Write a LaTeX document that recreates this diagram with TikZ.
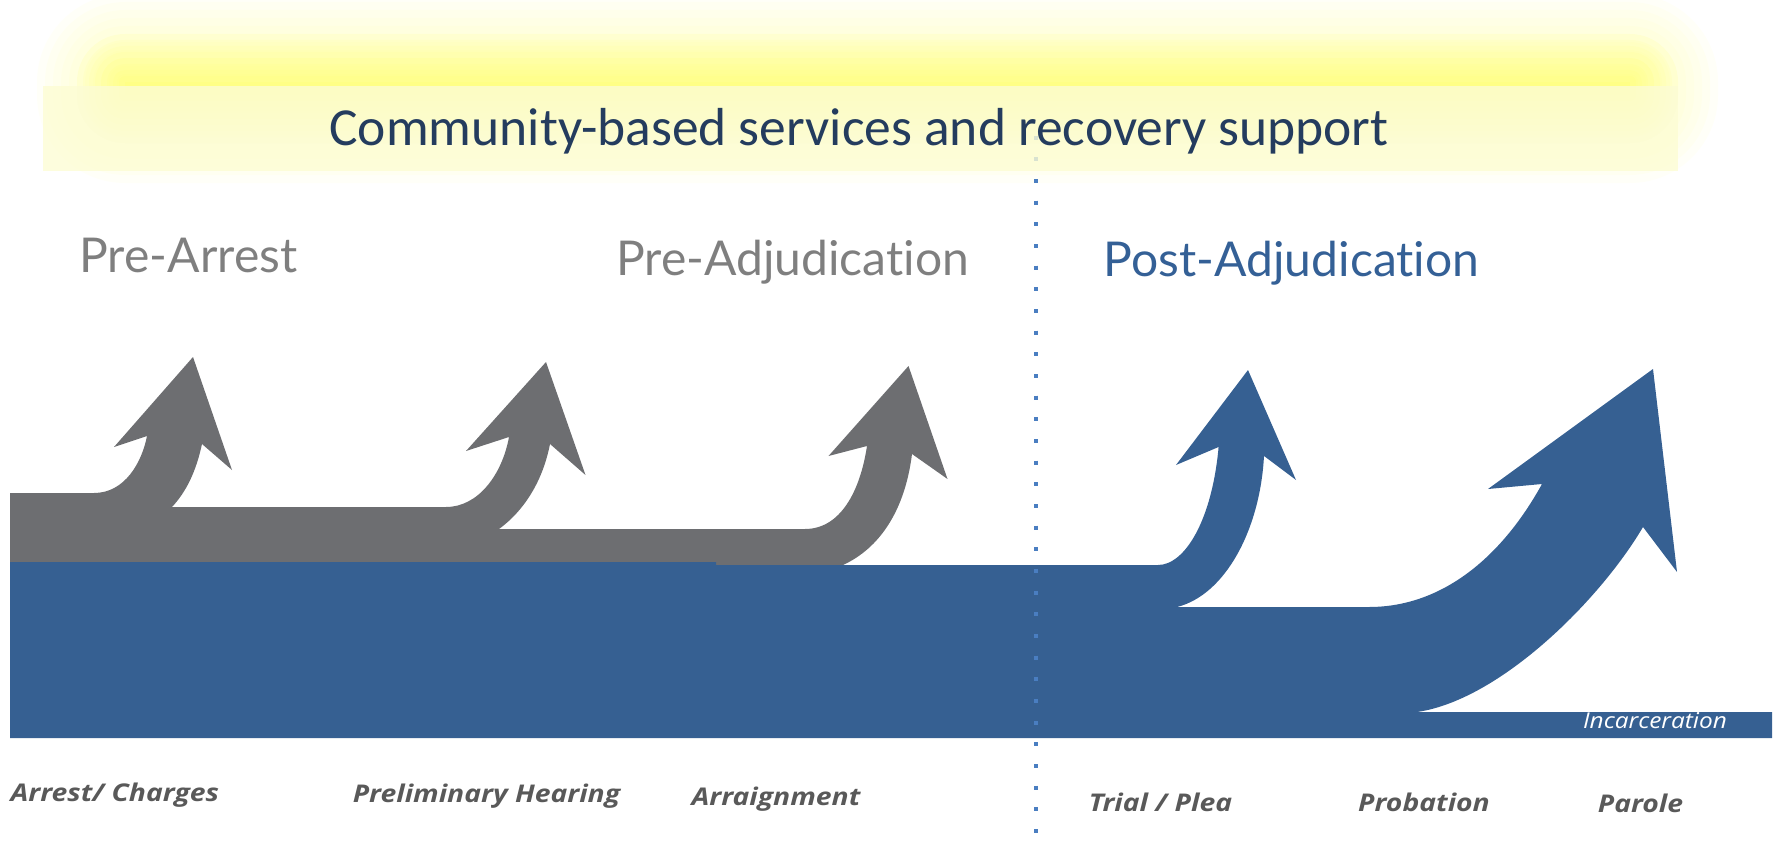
\documentclass[tikz,border=0pt]{standalone}
\usepackage{fontspec}
\setmainfont{Carlito}[Ligatures=NoCommon]
\newfontfamily\latofont{Lato}[Ligatures=NoCommon]
\newfontfamily\opensans{Open Sans}[Ligatures=NoCommon]
\definecolor{graya}{RGB}{109,110,113}
\definecolor{bluea}{RGB}{54,96,146}
\definecolor{headgray}{RGB}{127,127,127}
\definecolor{headblue}{RGB}{52,96,150}
\definecolor{navy}{RGB}{36,60,94}
\definecolor{labgray}{RGB}{89,89,89}
\definecolor{glowc}{RGB}{255,255,60}
\definecolor{bandc}{RGB}{252,252,212}
\definecolor{dotc}{RGB}{74,126,193}
\newcommand{\widetext}[2]{\scalebox{#1}[1]{#2}}
\tikzset{
  heading/.style={inner sep=0pt, anchor=base, font=\latofont\fontsize{48}{52}\selectfont},
  steplabel/.style={inner sep=0pt, anchor=base, text=labgray, font=\opensans\fontsize{24.4}{27}\selectfont\bfseries\itshape},
  dotline/.style={draw=dotc, line width=4.6pt, dash pattern=on 4pt off 17.67pt},
}
\begin{document}
\begin{tikzpicture}[x=1pt,y=-1pt]
\useasboundingbox (0,0) rectangle (1775,851);
% glow: broad faint layers
\foreach \d in {0,8,...,88} {
  \fill[glowc, opacity=0.035, rounded corners=\d] ({125-\d},{82-\d}) rectangle ({1630+\d},{95+\d});
}
% glow: concentrated layers
\foreach \d in {0,6,...,48} {
  \fill[glowc, opacity=0.06, rounded corners=\d] ({125-\d},{82-\d}) rectangle ({1630+\d},{95+\d});
}
\coordinate (dtop) at (1036,135.7);
\coordinate (dbot) at (1036,836);
\draw[dotline] (dtop) -- (dbot);
% band
\fill[bandc, opacity=0.8] (43,86) rectangle (1678,171);
\node[inner sep=0pt, anchor=base, text=navy, font=\fontsize{53.5}{57}\selectfont] (title) at (859,145) {Community-based services and recovery support};
% gray flow
\fill[graya] (10,565) -- (10,493) -- (94,493)
  .. controls (125,493) and (142,462) .. (147,436)
  -- (114,447) -- (193,357) -- (232,470) -- (202,444)
  .. controls (196,472) and (186,492) .. (172,507)
  -- (446,507)
  .. controls (478,507) and (502,475) .. (509,437)
  -- (466,451) -- (546,362) -- (585.5,475) -- (550,444)
  .. controls (543,480) and (525,510) .. (499,529)
  -- (805,529)
  .. controls (840,529) and (860,492) .. (867,446)
  -- (828.5,456) -- (908.5,366) -- (947.5,479) -- (912,454)
  .. controls (905,510) and (880,548) .. (843,565)
  -- cycle;
% blue flow
\fill[bluea] (10,738) -- (10,562) -- (716,562) -- (716,565) -- (1158,565)
  .. controls (1185,565) and (1212,520) .. (1218.6,447)
  -- (1176,465) -- (1248,370) -- (1296,480) -- (1264,456)
  .. controls (1260,530) and (1225,595) .. (1177,607)
  -- (1369,607)
  .. controls (1440,607) and (1500,560) .. (1542,484)
  -- (1488,489) -- (1653,369) -- (1677,572) -- (1643,527)
  .. controls (1600,600) and (1500,700) .. (1417,712)
  -- (1772,712) -- (1772,738) -- cycle;
% dots over blue
\coordinate (dmid) at (1036,179);
\draw[dotline] (dmid) -- (dbot);
% headings
\node[heading, text=headgray] (prearrest) at (188.4,272) {Pre-Arrest};
\node[heading, text=headgray] (preadj) at (792.5,275) {Pre-Adjudication};
\node[heading, text=headblue] (postadj) at (1291.5,276) {Post-Adjudication};
% incarceration
\node[inner sep=0pt, anchor=base, text=white, font=\opensans\fontsize{21.8}{24}\selectfont\itshape] (incarc) at (1655,728.3) {\widetext{1.12}{Incarceration}};
% step labels
\node[steplabel] (arrest) at (114.8,801.7) {\widetext{1.16}{Arrest/ Charges}};
\node[steplabel] (prelim) at (486.5,802.5) {\widetext{1.16}{Preliminary Hearing}};
\node[steplabel] (arraign) at (776,805) {\widetext{1.16}{Arraignment}};
\node[steplabel] (trial) at (1160.5,811) {\widetext{1.16}{Trial / Plea}};
\node[steplabel] (probation) at (1424,811) {\widetext{1.16}{Probation}};
\node[steplabel] (parole) at (1640.5,812) {\widetext{1.16}{Parole}};
\end{tikzpicture}
\end{document}
